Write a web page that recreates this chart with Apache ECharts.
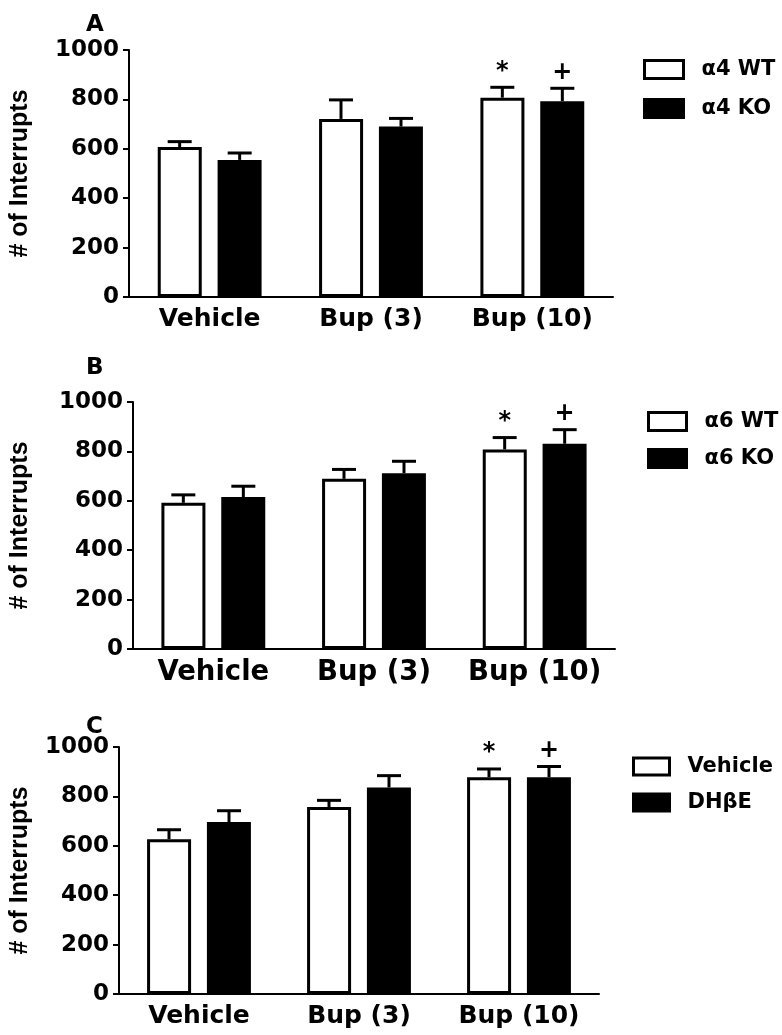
<!DOCTYPE html>
<html>
<head>
<meta charset="utf-8">
<script src="https://cdn.jsdelivr.net/npm/echarts@6/dist/echarts.min.js"></script>
<style>
  html, body { margin: 0; padding: 0; background: #fff; }
  #main { width: 782px; height: 1035px; }
</style>
</head>
<body>
<div id="main"></div>
<script type="text/javascript">
  // categories shared by all three panels
  var categories = ['Vehicle', 'Bup (3)', 'Bup (10)'];
  var yTicks = { min: 0, max: 1000, interval: 200 };

  // panel A: alpha4
  var a4WT = [607, 721, 807];
  var a4WTErr = [22, 77, 42];
  var a4WTSig = ['', '', '*'];
  var a4KO = [555, 690, 793];
  var a4KOErr = [28, 33, 52];
  var a4KOSig = ['', '', '+'];

  // panel B: alpha6
  var a6WT = [592, 689, 808];
  var a6WTErr = [32, 38, 48];
  var a6WTSig = ['', '', '*'];
  var a6KO = [615, 712, 831];
  var a6KOErr = [44, 48, 57];
  var a6KOSig = ['', '', '+'];

  // panel C: DHbE
  var cVeh = [627, 757, 878];
  var cVehErr = [38, 27, 33];
  var cVehSig = ['', '', '*'];
  var cDhbe = [696, 836, 878];
  var cDhbeErr = [46, 48, 43];
  var cDhbeSig = ['', '', '+'];

  var tickFont = 'DejaVu Sans';
  var panels = [
    { letter: 'A', top: 50, left: 128, right: 169, nameGap: 96, catSize: 25,
      names: ['\u03b14 WT', '\u03b14 KO'], vals: [a4WT, a4KO], errs: [a4WTErr, a4KOErr], sigs: [a4WTSig, a4KOSig],
      legend: { left: 643, top: 59, w: 39, h: 18, gap: 18 }, letterTop: 9 },
    { letter: 'B', top: 402, left: 132, right: 167, nameGap: 100, catSize: 27.5,
      names: ['\u03b16 WT', '\u03b16 KO'], vals: [a6WT, a6KO], errs: [a6WTErr, a6KOErr], sigs: [a6WTSig, a6KOSig],
      legend: { left: 647, top: 411, w: 38, h: 18, gap: 16 }, letterTop: 352 },
    { letter: 'C', top: 747, left: 118, right: 183, nameGap: 86, catSize: 25,
      names: ['Vehicle', 'DH\u03b2E'], vals: [cVeh, cDhbe], errs: [cVehErr, cDhbeErr], sigs: [cVehSig, cDhbeSig],
      legend: { left: 632, top: 756, w: 36, h: 17, gap: 15 }, letterTop: 711 }
  ];

  var chart = echarts.init(document.getElementById('main'));

  var option = {
    backgroundColor: '#fff',
    animation: false,
    title: [],
    legend: [],
    grid: [],
    xAxis: [],
    yAxis: [],
    series: []
  };

  function errSeries(idx, vals, errs, sigs, offset) {
    var data = [];
    for (var i = 0; i < vals.length; i++) data.push([i, vals[i], errs[i]]);
    return {
      type: 'custom',
      xAxisIndex: idx,
      yAxisIndex: idx,
      silent: true,
      z: 5,
      data: data,
      renderItem: function (params, api) {
        var base = api.coord([api.value(0), api.value(1)]);
        var top = api.coord([api.value(0), api.value(1) + api.value(2)]);
        var x = base[0] + offset;
        var style = { stroke: '#000', lineWidth: 3 };
        var kids = [
          { type: 'line', shape: { x1: x, y1: base[1], x2: x, y2: top[1] }, style: style },
          { type: 'line', shape: { x1: x - 12, y1: top[1], x2: x + 12, y2: top[1] }, style: style }
        ];
        var s = sigs[params.dataIndex];
        if (s) {
          kids.push({
            type: 'text',
            style: {
              text: s, x: x, y: top[1] - 4,
              align: 'center', verticalAlign: 'bottom',
              fontFamily: tickFont, fontWeight: 'bold', fontSize: 24, fill: '#000'
            }
          });
        }
        return { type: 'group', children: kids };
      }
    };
  }

  panels.forEach(function (p, idx) {
    option.title.push({
      text: p.letter, left: 81, top: p.letterTop,
      textStyle: { fontFamily: tickFont, fontWeight: 'bold', fontSize: 23, color: '#000' }
    });
    option.legend.push({
      data: p.names, orient: 'vertical', left: p.legend.left, top: p.legend.top,
      itemWidth: p.legend.w, itemHeight: p.legend.h, itemGap: p.legend.gap,
      icon: 'rect', padding: 0,
      itemStyle: { borderColor: '#000', borderWidth: 3 },
      textStyle: { fontFamily: tickFont, fontWeight: 'bold', fontSize: 21, color: '#000', padding: [0, 0, 0, 13] }
    });
    option.grid.push({ left: p.left, right: p.right, top: p.top, height: 247 });
    option.xAxis.push({
      type: 'category', gridIndex: idx, data: categories,
      axisLine: { lineStyle: { color: '#000', width: 2 } },
      axisTick: { alignWithLabel: true, length: 6, lineStyle: { color: '#000', width: 2 } },
      axisLabel: { interval: 0, hideOverlap: false, color: '#000', fontFamily: tickFont, fontWeight: 'bold', fontSize: p.catSize, margin: 10 }
    });
    option.yAxis.push({
      type: 'value', gridIndex: idx, min: yTicks.min, max: yTicks.max, interval: yTicks.interval,
      name: '# of Interrupts', nameLocation: 'middle', nameGap: p.nameGap,
      nameTextStyle: { fontFamily: 'Liberation Sans', fontWeight: 'bold', fontSize: 25, color: '#000' },
      axisLine: { show: true, lineStyle: { color: '#000', width: 2 } },
      axisTick: { show: true, length: 6, lineStyle: { color: '#000', width: 2 } },
      splitLine: { show: false },
      axisLabel: {
        color: '#000', fontFamily: tickFont, fontWeight: 'bold', fontSize: 23, margin: 10,
        formatter: function (v) { return String(v); }
      }
    });
    var fills = ['#fff', '#000'];
    var offsets = [-30, 30];
    for (var k = 0; k < 2; k++) {
      option.series.push({
        name: p.names[k], type: 'bar', xAxisIndex: idx, yAxisIndex: idx,
        barWidth: 44, barGap: '36%',
        itemStyle: { color: fills[k], borderColor: '#000', borderWidth: 3 },
        data: p.vals[k]
      });
      option.series.push(errSeries(idx, p.vals[k], p.errs[k], p.sigs[k], offsets[k]));
    }
  });

  chart.setOption(option);
</script>
</body>
</html>
